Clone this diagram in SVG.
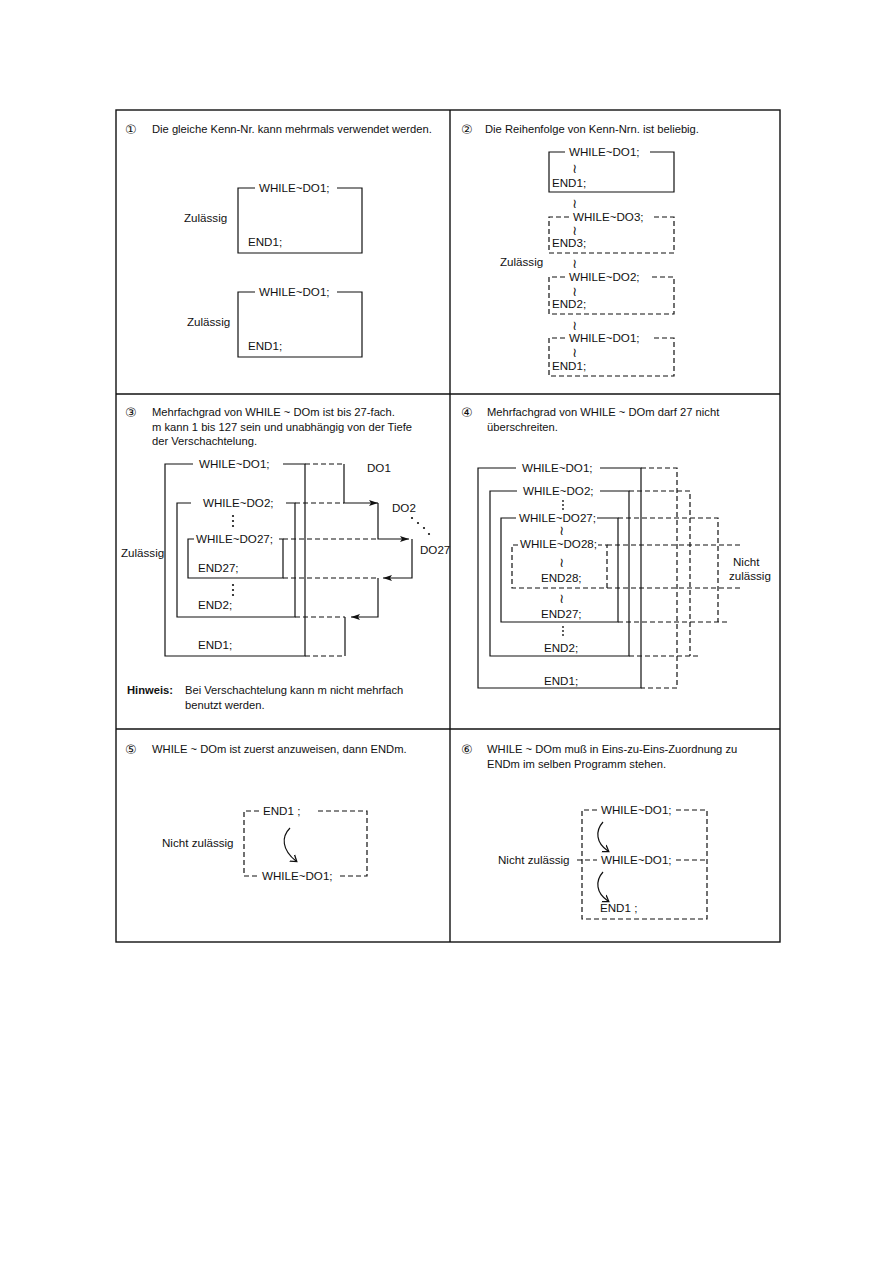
<svg xmlns="http://www.w3.org/2000/svg" width="893" height="1263" viewBox="0 0 893 1263">
<style>
.t{font-family:'Liberation Sans','DejaVu Sans',sans-serif;font-size:11.2px;fill:#111}
.l{font-family:'Liberation Sans','DejaVu Sans',sans-serif;font-size:11.6px;fill:#111}
.b{font-weight:bold}
.c{font-family:'DejaVu Sans',sans-serif;font-size:13px;fill:#111}
.w{font-family:'DejaVu Sans',sans-serif;font-size:13px;fill:#111}
.s{stroke:#111;stroke-width:1.2;fill:none}
.d{stroke:#111;stroke-width:1.2;fill:none;stroke-dasharray:5 3}
.g{stroke:#111;stroke-width:1.4;fill:none}
.dot{fill:#111}
</style>
<defs>
<marker id="ah" markerUnits="userSpaceOnUse" markerWidth="10" markerHeight="8" refX="9" refY="4" orient="auto">
<path d="M0,1 L9,4 L0,7 L2,4 Z" fill="#111"/>
</marker>
<marker id="oh" markerUnits="userSpaceOnUse" markerWidth="10" markerHeight="10" refX="5" refY="5" orient="auto">
<path d="M0,1 L6,5 L0,9" fill="none" stroke="#111" stroke-width="1.3"/>
</marker>
</defs>
<rect width="893" height="1263" fill="#fff"/>
<g id="table">
<rect x="116" y="110" width="664" height="832" class="g"/>
<line x1="450" y1="110" x2="450" y2="942" class="g"/>
<line x1="116" y1="394" x2="780" y2="394" class="g"/>
<line x1="116" y1="729" x2="780" y2="729" class="g"/>
</g>
<g id="cell1">
<text x="125" y="134" class="c">①</text>
<text x="152" y="133" class="t">Die gleiche Kenn-Nr. kann mehrmals verwendet werden.</text>
<g id="c1-box1">
<path d="M255,188 H238 V253 H362 V188 H337" class="s"/>
<text x="259" y="192" class="l">WHILE~DO1;</text>
<text x="248" y="246" class="l">END1;</text>
<text x="184" y="222" class="l">Zulässig</text>
</g>
<g id="c1-box2">
<path d="M255,292 H238 V357 H362 V292 H337" class="s"/>
<text x="259" y="296" class="l">WHILE~DO1;</text>
<text x="248" y="350" class="l">END1;</text>
<text x="187" y="326" class="l">Zulässig</text>
</g>
</g>
<g id="cell2">
<text x="461" y="134" class="c">②</text>
<text x="485" y="133" class="t">Die Reihenfolge von Kenn-Nrn. ist beliebig.</text>
<text x="500" y="266" class="l">Zulässig</text>
<g id="c2-do1a">
<path d="M565,152 H549 V192 H674 V152 H650" class="s"/>
<text x="569" y="156" class="l">WHILE~DO1;</text>
<text x="572" y="173" class="w">≀</text>
<text x="552" y="187" class="l">END1;</text>
</g>
<text x="572" y="208" class="w">≀</text>
<g id="c2-do3">
<path d="M569,217 H549 V253 H674 V217 H653" class="d"/>
<text x="573" y="221" class="l">WHILE~DO3;</text>
<text x="572" y="235" class="w">≀</text>
<text x="552" y="247" class="l">END3;</text>
</g>
<text x="572" y="268" class="w">≀</text>
<g id="c2-do2">
<path d="M565,277 H549 V314 H674 V277 H651" class="d"/>
<text x="569" y="281" class="l">WHILE~DO2;</text>
<text x="572" y="296" class="w">≀</text>
<text x="552" y="308" class="l">END2;</text>
</g>
<text x="572" y="330" class="w">≀</text>
<g id="c2-do1b">
<path d="M565,338 H549 V376 H674 V338 H651" class="d"/>
<text x="569" y="342" class="l">WHILE~DO1;</text>
<text x="572" y="357" class="w">≀</text>
<text x="552" y="370" class="l">END1;</text>
</g>
</g>
<g id="cell3">
<text x="125" y="417" class="c">③</text>
<text x="152" y="416" class="t">Mehrfachgrad von WHILE ~ DOm ist bis 27-fach.</text>
<text x="152" y="431" class="t">m kann 1 bis 127 sein und unabhängig von der Tiefe</text>
<text x="152" y="445" class="t">der Verschachtelung.</text>
<text x="121" y="557" class="l">Zulässig</text>
<g id="c3-do1">
<path d="M193,464 H165 V656 H305 V464 H283" class="s"/>
<text x="199" y="468" class="l">WHILE~DO1;</text>
<text x="198" y="649" class="l">END1;</text>
</g>
<g id="c3-do2">
<path d="M191,503 H177 V617 H295 V503 H286" class="s"/>
<text x="203" y="507" class="l">WHILE~DO2;</text>
<text x="198" y="609" class="l">END2;</text>
<circle cx="233" cy="516" r="1.1" class="dot"/><circle cx="233" cy="521" r="1.1" class="dot"/><circle cx="233" cy="526" r="1.1" class="dot"/>
<circle cx="233" cy="585" r="1.1" class="dot"/><circle cx="233" cy="590" r="1.1" class="dot"/><circle cx="233" cy="595" r="1.1" class="dot"/>
</g>
<g id="c3-do27">
<path d="M194,539 H188 V578 H283 V539 H279" class="s"/>
<text x="196" y="543" class="l">WHILE~DO27;</text>
<text x="198" y="572" class="l">END27;</text>
</g>
<text x="367" y="472" class="l">DO1</text>
<text x="392" y="512" class="l">DO2</text>
<text x="420" y="554" class="l">DO27</text>
<circle cx="412" cy="518" r="1.1" class="dot"/><circle cx="418" cy="523" r="1.1" class="dot"/><circle cx="424" cy="528" r="1.1" class="dot"/><circle cx="429" cy="534" r="1.1" class="dot"/>
</g>
<g id="connectors">
<path d="M305,464 H344" class="d"/>
<path d="M344,464 V503 H378" class="s" marker-end="url(#ah)"/>
<path d="M295,503 H344" class="d"/>
<path d="M283,539 H378" class="d"/>
<path d="M378,503 V539 H409" class="s" marker-end="url(#ah)"/>
<path d="M283,578 H378" class="d"/>
<path d="M412,539 V578 H383" class="s" marker-end="url(#ah)"/>
<path d="M378,578 V617 H351" class="s" marker-end="url(#ah)"/>
<path d="M295,617 H345" class="d"/>
<path d="M345,617 V656" class="s"/>
<path d="M305,656 H345" class="d"/>
<path d="M641,468 H677 V688 H641" class="d"/>
<path d="M629,491 H690 V656" class="d"/>
<path d="M629,656 H700" class="d"/>
<path d="M618,518 H718 V622" class="d"/>
<path d="M618,622 H730" class="d"/>
<path d="M607,545 H741" class="d"/>
<path d="M607,588 H741" class="d"/>
<path d="M290,828 C281,837 282,850 296,861" class="s" marker-end="url(#oh)"/>
<path d="M603,822 C595,831 596,843 608,851" class="s" marker-end="url(#oh)"/>
<path d="M603,872 C595,881 596,893 608,901" class="s" marker-end="url(#oh)"/>
</g>
<g id="cell3-note">
<text x="127" y="694" class="t b">Hinweis:</text>
<text x="185" y="694" class="t">Bei Verschachtelung kann m nicht mehrfach</text>
<text x="185" y="709" class="t">benutzt werden.</text>
</g>
<g id="cell4">
<text x="461" y="417" class="c">④</text>
<text x="487" y="416" class="t">Mehrfachgrad von WHILE ~ DOm darf 27 nicht</text>
<text x="487" y="431" class="t">überschreiten.</text>
<g id="c4-do1">
<path d="M516,468 H478 V688 H641 V468 H600" class="s"/>
<text x="522" y="472" class="l">WHILE~DO1;</text>
<text x="544" y="685" class="l">END1;</text>
</g>
<g id="c4-do2">
<path d="M517,491 H490 V656 H629 V491 H600" class="s"/>
<text x="523" y="495" class="l">WHILE~DO2;</text>
<circle cx="563" cy="501" r="0.9" class="dot"/><circle cx="563" cy="505" r="0.9" class="dot"/><circle cx="563" cy="509" r="0.9" class="dot"/>
<circle cx="563" cy="627" r="0.9" class="dot"/><circle cx="563" cy="631" r="0.9" class="dot"/><circle cx="563" cy="635" r="0.9" class="dot"/>
<text x="544" y="652" class="l">END2;</text>
</g>
<g id="c4-do27">
<path d="M516,518 H501 V622 H618 V518 H597" class="s"/>
<text x="519" y="522" class="l">WHILE~DO27;</text>
<text x="559" y="535" class="w">≀</text>
<text x="559" y="603" class="w">≀</text>
<text x="541" y="618" class="l">END27;</text>
</g>
<g id="c4-do28">
<path d="M518,545 H512 V588 H607 V545 H598" class="d"/>
<text x="520" y="548" class="l">WHILE~DO28;</text>
<text x="559" y="567" class="w">≀</text>
<text x="541" y="582" class="l">END28;</text>
</g>
<text x="733" y="566" class="l">Nicht</text>
<text x="729" y="580" class="l">zulässig</text>
</g>
<g id="cell5">
<text x="125" y="754" class="c">⑤</text>
<text x="152" y="753" class="t">WHILE ~ DOm ist zuerst anzuweisen, dann ENDm.</text>
<text x="162" y="847" class="l">Nicht zulässig</text>
<g id="c5-box">
<path d="M259,811 H244 V876 H258" class="d"/>
<path d="M318,811 H367 V876 H337" class="d"/>
<text x="263" y="815" class="l">END1 ;</text>
<text x="262" y="880" class="l">WHILE~DO1;</text>
</g>
</g>
<g id="cell6">
<text x="461" y="754" class="c">⑥</text>
<text x="487" y="753" class="t">WHILE ~ DOm muß in Eins-zu-Eins-Zuordnung zu</text>
<text x="487" y="768" class="t">ENDm im selben Programm stehen.</text>
<text x="498" y="864" class="l">Nicht zulässig</text>
<g id="c6-box">
<path d="M597,810 H582 V919 H707 V810 H676" class="d"/>
<path d="M577,860 H597" class="d"/>
<path d="M676,860 H707" class="d"/>
<text x="601" y="814" class="l">WHILE~DO1;</text>
<text x="601" y="864" class="l">WHILE~DO1;</text>
<text x="600" y="912" class="l">END1 ;</text>
</g>
</g>
</svg>
